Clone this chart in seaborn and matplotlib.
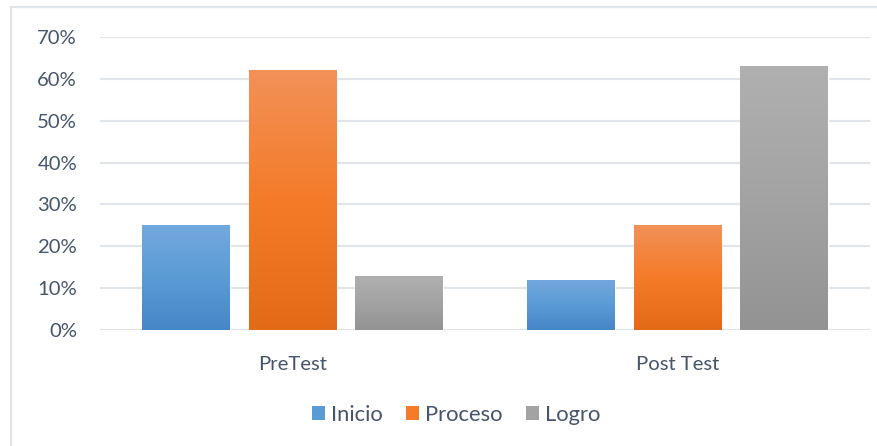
import numpy as np
import pandas as pd
import matplotlib
matplotlib.use("Agg")
import matplotlib.pyplot as plt
import seaborn as sns
from matplotlib.colors import LinearSegmentedColormap
from matplotlib.patches import Rectangle, Patch
from matplotlib.ticker import PercentFormatter

categories = ["PreTest", "Post Test"]
series = ["Inicio", "Proceso", "Logro"]
inicio = [0.25, 0.12]
proceso = [0.62, 0.25]
logro = [0.13, 0.63]
yticks = [0, 0.1, 0.2, 0.3, 0.4, 0.5, 0.6, 0.7]

df = pd.DataFrame({
    "cat": categories * 3,
    "serie": [s for s in series for _ in categories],
    "val": inicio + proceso + logro,
})

grad = {
    "Inicio": ["#72a9de", "#5b9bd5", "#4686c8"],
    "Proceso": ["#f29158", "#f47b28", "#e36b18"],
    "Logro": ["#b0b0b0", "#a3a3a3", "#939393"],
}
base = {k: v[1] for k, v in grad.items()}

sns.set_theme(style="white")
plt.rcParams["font.family"] = ["Lato", "DejaVu Sans"]
txt = "#46556b"

fig = plt.figure(figsize=(8.77, 4.46), dpi=100)
ax = fig.add_axes([100 / 877, 1 - 330 / 446, 770 / 877, 293 / 446])

sns.barplot(data=df, x="cat", y="val", hue="serie", order=categories,
            hue_order=series, palette=base, width=0.83, gap=0.18,
            ax=ax, legend=False, saturation=1)

ax.set_ylim(0, 0.7)
ax.set_xlim(-0.5, 1.5)
ax.set_yticks(yticks)
ax.yaxis.set_major_formatter(PercentFormatter(1.0, decimals=0))
ax.grid(axis="y", color="#e1e4e9", linewidth=1.6)
ax.set_axisbelow(True)
for s in ax.spines.values():
    s.set_visible(False)
ax.set_xlabel("")
ax.set_ylabel("")
ax.tick_params(axis="y", labelsize=14.6, labelcolor=txt, pad=16.5, length=0)
ax.tick_params(axis="x", labelsize=14.6, labelcolor=txt, pad=18.5, length=0)

# gradient fills
for container, s in zip(ax.containers, series):
    cmap = LinearSegmentedColormap.from_list(s, grad[s][::-1])
    for bar in container:
        x0, y0 = bar.get_x(), bar.get_y()
        w, h = bar.get_width(), bar.get_height()
        g = np.linspace(0, 1, 256).reshape(-1, 1)
        im = ax.imshow(g, cmap=cmap, origin="lower", aspect="auto",
                       extent=[x0, x0 + w, y0, y0 + h], zorder=bar.get_zorder() + 0.1)
        im.set_clip_path(bar)

handles = [Patch(facecolor=base[s], edgecolor="none") for s in series]
fig.legend(handles, series, loc="center", bbox_to_anchor=(456 / 877, 1 - 415 / 446),
           ncol=3, frameon=False, fontsize=15.8, labelcolor=txt,
           handlelength=0.6, handleheight=0.6, handletextpad=0.28, columnspacing=1.05)

fig.patches.append(Rectangle((11 / 877, -0.1), 1.2, 1 - 7 / 446 + 0.1,
                             transform=fig.transFigure, fill=False,
                             edgecolor="#dfe3ea", linewidth=1.6))

fig.savefig("out.png", dpi=100)
